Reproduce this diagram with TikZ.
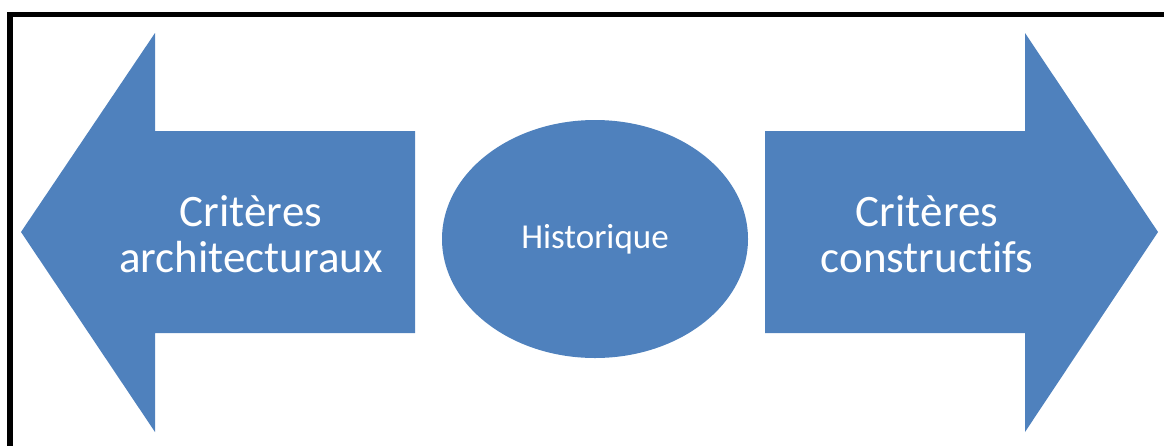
\documentclass[tikz,border=0pt]{standalone}
\usepackage{fontspec}
\setmainfont{Carlito}[Ligatures=NoCommon]
\usepackage{tikz}
\usetikzlibrary{shapes.geometric}
\definecolor{mBlue}{HTML}{4F81BD}

\begin{document}
\begin{tikzpicture}[x=1pt, y=-1pt,
      blueshape/.style={fill=mBlue, draw=none},
      bigtext/.style={white, align=center, font=\fontsize{45}{46}\selectfont}]
    \useasboundingbox (0,0) rectangle (1164,445);
    \clip (0,0) rectangle (1164,445);
    \draw[line width=5.5pt] (10,14.5) rectangle (1175,460);
    % the two arrows
    \fill[blueshape] (21,232) -- (155,33) -- (155,131) -- (415,131) -- (415,333)
      -- (155,333) -- (155,432) -- cycle;
    \fill[blueshape] (1158,232) -- (1025,33) -- (1025,131) -- (765,131) -- (765,333)
      -- (1025,333) -- (1025,432) -- cycle;
    \node[blueshape, ellipse, minimum width=306pt, minimum height=238pt, inner sep=0pt,
      text=white, font=\fontsize{35}{40}\selectfont] (hist) at (595,239) {Historique};
    \node[bigtext] (archi) at (251,234) {Critères\\architecturaux};
    \node[bigtext] (constr) at (927,234) {Critères\\constructifs};
  \end{tikzpicture}
\end{document}
